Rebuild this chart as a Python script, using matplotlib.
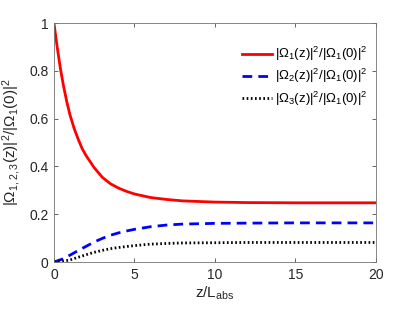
import numpy as np
import matplotlib
matplotlib.use("Agg")
import matplotlib.pyplot as plt
from matplotlib.ticker import FormatStrFormatter

plt.rcParams['font.family'] = ['Liberation Sans', 'DejaVu Sans']
plt.rcParams['mathtext.fontset'] = 'custom'
plt.rcParams['mathtext.rm'] = 'Liberation Sans'
plt.rcParams['mathtext.it'] = 'Liberation Sans'
plt.rcParams['mathtext.bf'] = 'Liberation Sans:bold'

# values
red_x = [0, 0.1, 0.2, 0.4, 0.6, 0.8, 1.0, 1.25, 1.5, 1.75, 2.0, 2.5, 3.0, 3.5, 4.0, 4.5,
         5, 6, 7, 8, 10, 12, 15, 20]
red_y = [1.0, 0.95, 0.90, 0.81, 0.735, 0.67, 0.615, 0.56, 0.515, 0.475, 0.445, 0.395, 0.355,
         0.328, 0.31, 0.296, 0.285, 0.27, 0.262, 0.256, 0.251, 0.249, 0.248, 0.248]

blue_x = [0, 0.5, 1.0, 1.5, 2.0, 2.5, 3.0, 3.5, 4.0, 4.5, 5.0, 6.0, 7.0, 8.0, 10, 12, 15, 20]
blue_y = [0, 0.012, 0.029, 0.048, 0.066, 0.084, 0.099, 0.112, 0.122, 0.130, 0.137, 0.148,
          0.155, 0.159, 0.162, 0.163, 0.164, 0.164]

black_x = [0, 0.5, 1.0, 1.5, 2.0, 2.5, 3.0, 3.5, 4.0, 5.0, 6.0, 7.0, 8.0, 10, 12, 15, 20]
black_y = [0, 0.003, 0.009, 0.02, 0.031, 0.041, 0.049, 0.056, 0.061, 0.069, 0.075, 0.078,
           0.080, 0.081, 0.082, 0.082, 0.082]

labels = [r'$|\Omega_1(z)|^2/|\Omega_1(0)|^2$',
          r'$|\Omega_2(z)|^2/|\Omega_1(0)|^2$',
          r'$|\Omega_3(z)|^2/|\Omega_1(0)|^2$']

fig = plt.figure(figsize=(4.15, 3.12), dpi=100)
ax = fig.add_axes([0.130, 0.160, 0.776, 0.766])

ax.plot(red_x, red_y, color='red', lw=2, label=labels[0])
ax.plot(blue_x, blue_y, color='blue', lw=2, ls=(0, (3.5, 2.2)), label=labels[1])
ax.plot(black_x, black_y, color='black', lw=2, ls=(0, (0.6, 0.9)), label=labels[2])

ax.set_xlim(0, 20)
ax.set_ylim(0, 1)
ax.set_xticks([0, 5, 10, 15, 20])
ax.set_yticks([0, 0.2, 0.4, 0.6, 0.8, 1])
ax.yaxis.set_major_formatter(FormatStrFormatter('%g'))
ax.tick_params(direction='in', length=3, width=0.5, colors='0.15', labelsize=10,
               top=True, right=True, pad=4)
for s in ax.spines.values():
    s.set_color('0.45')
    s.set_linewidth(0.6)

ax.set_xlabel(r'z/L$_{\rm abs}$', fontsize=11, color='0.15', labelpad=2)
ax.set_ylabel(r'$|\Omega_{1,2,3}(z)|^2/|\Omega_1(0)|^2$', fontsize=11, color='0.15', labelpad=4)

ax.legend(loc='upper right', bbox_to_anchor=(0.989, 0.93), borderaxespad=0, frameon=False,
          fontsize=9.5, handlelength=2.3, handletextpad=0.2, labelspacing=0.3)

fig.savefig('out.png', dpi=100)
